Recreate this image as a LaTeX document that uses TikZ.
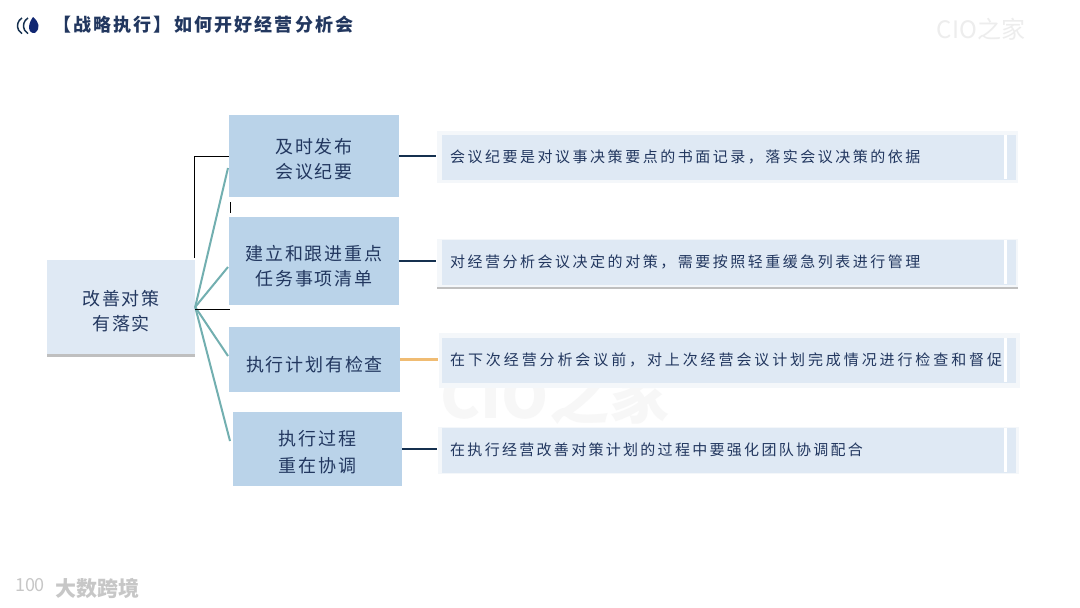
\documentclass[tikz,border=0pt]{standalone}
\usepackage{fontspec}
\setmainfont{Noto Sans CJK SC}
\usetikzlibrary{shadows}
\definecolor{inkblue}{HTML}{22375F}
\definecolor{boxblue}{HTML}{BAD3E9}
\definecolor{paleblue}{HTML}{DFE9F4}
\definecolor{framegray}{HTML}{F4F7FA}
\definecolor{tealline}{HTML}{72AFB0}
\definecolor{navyline}{HTML}{15304F}
\definecolor{orangeline}{HTML}{F0BC73}
\newcommand{\dropline}[1]{\rule{0pt}{#1}}
\tikzset{
  mainbox/.style={fill=boxblue, text=inkblue, align=center, inner sep=0pt,
    font=\fontsize{18}{25}\selectfont\addfontfeature{LetterSpace=10}},
  detailbox/.style={fill=paleblue, text=inkblue, anchor=west, inner sep=0pt, text width=574pt,
    minimum height=45pt, font=\fontsize{15}{18}\selectfont},
  framebox/.style={fill=framegray, minimum width=581pt, inner sep=0pt},
  rootline/.style={tealline, line width=2pt},
  thinline/.style={black, line width=0.6pt},
  navylink/.style={navyline, line width=2.5pt},
  markfont/.style={text=black!7, inner sep=0pt}
}
\begin{document}
\begin{tikzpicture}[x=1pt, y=-1pt]
    \useasboundingbox (0,0) rectangle (1080,608);
    \fill[white] (0,0) rectangle (1080,608);
    % faint marks
    \node[markfont, font=\fontsize{24}{24}\selectfont] (marktop) at (981,29) {CIO之家};
    \node[markfont, text=black!3, font=\bfseries\fontsize{60}{60}\selectfont] (markmid) at (555,395) {CIO之家};
    \node[text=black!22, inner sep=0pt, font=\bfseries\fontsize{21}{21}\selectfont] (markbottom) at (98,588) {大数跨境};
    \node[text=black!22, inner sep=0pt, font=\fontsize{18}{18}\selectfont] (markicon) at (30,585) {100};

    % logo and title
    \draw[navyline, line width=1.5pt] (22,18) arc[start angle=120, end angle=240, radius=9pt];
    \draw[navyline, line width=1.5pt] (28,18) arc[start angle=120, end angle=240, radius=9pt];
    \fill[navyline!80!blue] (33,17) .. controls (39,22) and (41,28) .. (35,33) .. controls (28,34) and (27,25) .. (33,17);
    \node[anchor=west, inner sep=0pt, text=inkblue, font=\bfseries\fontsize{18}{20}\selectfont\addfontfeature{LetterSpace=12}] (title) at (53,25)
        {【战略执行】如何开好经营分析会};

    % left column
    \node[fill=paleblue, text=inkblue, align=center, inner sep=0pt, minimum width=148pt, minimum height=94pt,
        font=\fontsize{18}{25}\selectfont\addfontfeature{LetterSpace=9},
        drop shadow={shadow xshift=0pt, shadow yshift=-3pt, fill=black, opacity=0.25}] (root) at (121,307) {\dropline{24pt}改善对策\\有落实};

    % middle column
    \node[mainbox, minimum width=170pt, minimum height=82pt] (publish) at (314,156) {\dropline{22pt}及时发布\\会议纪要};
    \node[mainbox, minimum width=170pt, minimum height=88pt] (tasklist) at (314,261) {\dropline{26pt}建立和跟进重点\\任务事项清单};
    \node[mainbox, minimum width=171pt, minimum height=65pt] (review) at (314.5,359.5) {\dropline{26pt}执行计划有检查};
    \node[mainbox, minimum width=169pt, minimum height=74pt] (coord) at (317.5,449) {\dropline{22pt}执行过程\\[2pt]重在协调};

    % right column
    \node[framebox, minimum height=52pt] (frameA) at (727,157) {};
    \node[framebox, minimum height=48pt, drop shadow={shadow xshift=0.8pt, shadow yshift=-2pt, fill=black, opacity=0.25}] (frameB) at (727,263) {};
    \node[framebox, minimum height=55pt] (frameC) at (729,360) {};
    \node[framebox, minimum height=47pt] (frameD) at (728,450) {};
    \foreach \name/\y/\ls/\txt in {
        infoA/157/16.7/会议纪要是对议事决策要点的书面记录，落实会议决策的依据,
        infoB/262/16.7/对经营分析会议决定的对策，需要按照轻重缓急列表进行管理,
        infoC/360/19.3/在下次经营分析会议前，对上次经营会议计划完成情况进行检查和督促,
        infoD/450/15.3/在执行经营改善对策计划的过程中要强化团队协调配合} {
        \node[detailbox] (\name) at (442,\y) {\addfontfeature{LetterSpace=\ls}\hspace{8pt}\txt};
        \fill[white] (1004,\y-22) rectangle (1007,\y+22);
    }

    % links
    \coordinate (tipA) at (228,168);
    \coordinate (tipB) at (228,267);
    \coordinate (tipC) at (228,356);
    \coordinate (tipD) at (230,441);
    \foreach \tip in {tipA,tipB,tipC,tipD}
        \draw[rootline] (root.east) -- (\tip);
    \coordinate (elbowTop) at (194,258);
    \draw[thinline] (elbowTop) |- (publish.west);
    \coordinate (stubEnd) at (230,309);
    \draw[thinline] (root.east |- stubEnd) -- (stubEnd);
    \coordinate (tickTop) at (230,202);
    \coordinate (tickEnd) at (230,213);
    \draw[thinline] (tickTop) -- (tickEnd);
    \draw[navylink] (publish.east) -- (publish.east -| frameA.west);
    \draw[navylink] (tasklist.east) -- (tasklist.east -| frameB.west);
    \draw[orangeline, line width=2.5pt] (review.east) -- (review.east -| frameC.west);
    \draw[navylink] (coord.east) -- (coord.east -| frameD.west);
\end{tikzpicture}
\end{document}
